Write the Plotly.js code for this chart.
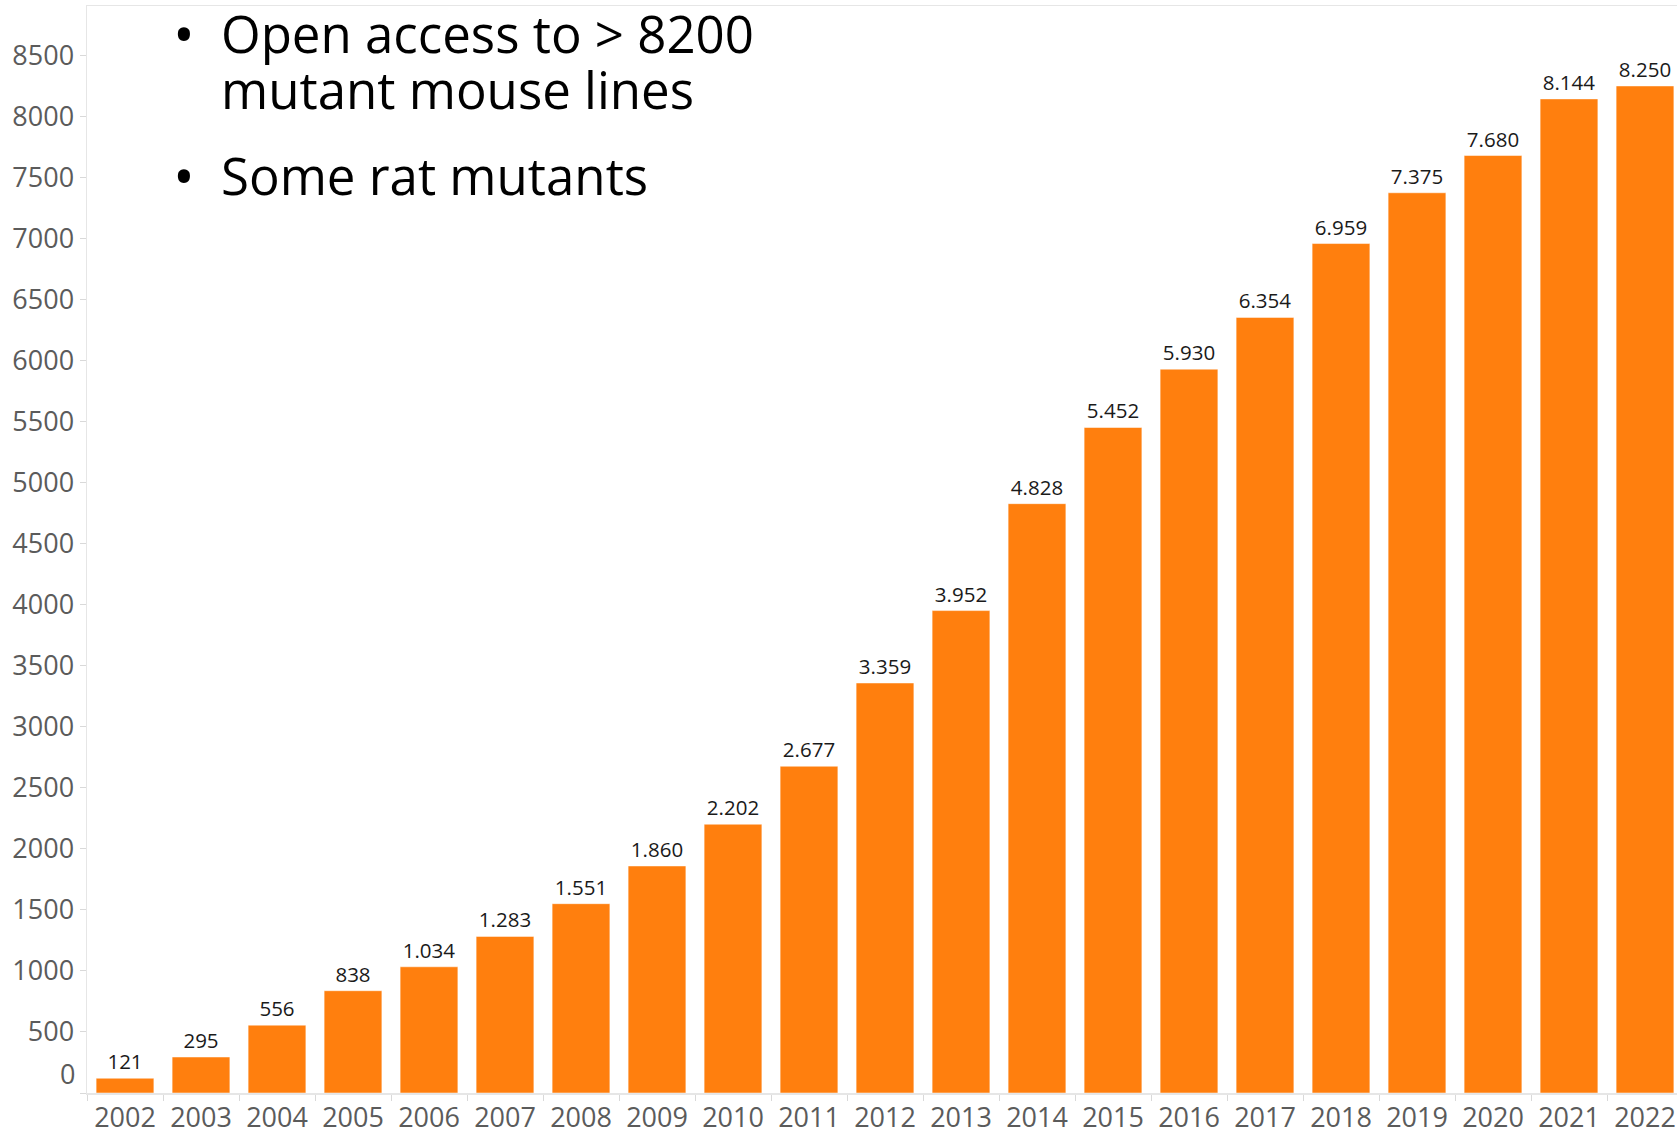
<!DOCTYPE html>
<html>
<head>
<meta charset="utf-8">
<script src="https://cdn.plot.ly/plotly-3.0.1.min.js"></script>
<style>
html, body { margin: 0; padding: 0; background: #ffffff; overflow: hidden; width: 1677px; height: 1129px; }
#chart { width: 1700px; height: 1129px; }
</style>
</head>
<body>
<div id="chart"></div>
<script>
// ---- data ----
const years = ['2002','2003','2004','2005','2006','2007','2008','2009','2010','2011','2012',
               '2013','2014','2015','2016','2017','2018','2019','2020','2021','2022'];
const mutantLines = [121, 295, 556, 838, 1034, 1283, 1551, 1860, 2202, 2677, 3359,
                     3952, 4828, 5452, 5930, 6354, 6959, 7375, 7680, 8144, 8250];
const yTickValues = [0, 500, 1000, 1500, 2000, 2500, 3000, 3500, 4000, 4500,
                     5000, 5500, 6000, 6500, 7000, 7500, 8000, 8500];
const yTickLabels = ['0', '500', '1000', '1500', '2000', '2500', '3000', '3500', '4000', '4500',
                     '5000', '5500', '6000', '6500', '7000', '7500', '8000', '8500'];
const bulletLines = [
  ['Open access to > 8200', 'mutant mouse lines'],
  ['Some rat mutants']
];

// ---- layout helpers (pixel -> paper) ----
const W = 1700, H = 1129;
const M = { l: 87, r: 17, t: 6, b: 36 };
const PW = W - M.l - M.r, PH = H - M.t - M.b;
const px = x => (x - M.l) / PW;
const py = y => (H - M.b - y) / PH;

const tickColor = '#5b5b5b';
const lineColor = '#e6e6e6';
const tickFont = { family: 'Open Sans, Noto Sans, sans-serif', size: 27, color: tickColor };
const noteFont = { family: 'Open Sans, Noto Sans, sans-serif', size: 51, color: '#000000' };
const bulletFont = { family: 'Open Sans, Noto Sans, sans-serif', size: 58, color: '#000000' };

const trace = {
  type: 'bar',
  x: years,
  y: mutantLines,
  marker: { color: '#ff7f0e', line: { color: '#ffffff', width: 0.5 } },
  texttemplate: '%{y:,}',
  textposition: 'outside',
  cliponaxis: false,
  textfont: { family: 'Open Sans, Noto Sans, sans-serif', size: 20.5, color: '#1a1a1a' },
  hoverinfo: 'skip'
};

const annotations = [];
const lineCenters = [[33, 89], [175]];
const bulletCenters = [33, 175];
bulletLines.forEach((group, gi) => {
  annotations.push({
    xref: 'paper', yref: 'paper', x: px(184), y: py(bulletCenters[gi]),
    xanchor: 'center', yanchor: 'middle', showarrow: false,
    text: '•', font: bulletFont
  });
  group.forEach((t, li) => {
    annotations.push({
      xref: 'paper', yref: 'paper', x: px(219), y: py(lineCenters[gi][li]),
      xanchor: 'left', yanchor: 'middle', showarrow: false,
      text: t, font: noteFont
    });
  });
});
// zero label (drawn slightly above the axis line, as in the source)
annotations.push({
  xref: 'paper', yref: 'y', x: 0, y: yTickValues[0], xshift: -10, yshift: 20,
  xanchor: 'right', yanchor: 'middle', showarrow: false,
  text: yTickLabels[0], font: tickFont
});

const layout = {
  width: W, height: H,
  margin: M,
  separators: ',.',
  paper_bgcolor: '#ffffff',
  plot_bgcolor: '#ffffff',
  font: { family: 'Open Sans, Noto Sans, sans-serif' },
  showlegend: false,
  bargap: 0.24,
  xaxis: {
    type: 'category',
    showgrid: false,
    showline: true, linecolor: lineColor, linewidth: 1.5, mirror: true,
    ticks: 'outside', tickson: 'boundaries', ticklen: 6, tickcolor: '#d9d9d9', tickwidth: 1,
    tickfont: tickFont,
    fixedrange: true
  },
  yaxis: {
    range: [0, 8905],
    showgrid: false, zeroline: false,
    showline: true, linecolor: lineColor, linewidth: 1.5, mirror: true,
    ticks: 'outside', ticklen: 6, tickcolor: '#d9d9d9', tickwidth: 1,
    tickmode: 'array',
    tickvals: yTickValues,
    ticktext: yTickLabels.map((t, i) => i === 0 ? '' : t),
    tickfont: tickFont,
    fixedrange: true
  },
  annotations: annotations
};

Plotly.newPlot('chart', [trace], layout, { displayModeBar: false, staticPlot: true });
</script>
</body>
</html>
